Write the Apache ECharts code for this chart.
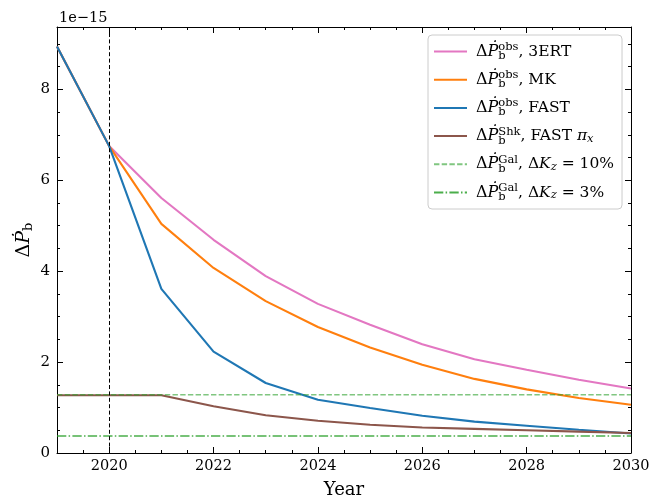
<!DOCTYPE html>
<html>
<head>
<meta charset="utf-8">
<script src="https://cdn.jsdelivr.net/npm/echarts@6/dist/echarts.min.js"></script>
<style>html,body{margin:0;padding:0;background:#fff}#c{width:671px;height:499px}</style>
</head>
<body>
<div id="c"></div>
<script>
// ---- data ----
const years = [2019, 2020, 2021, 2022, 2023, 2024, 2025, 2026, 2027, 2028, 2029, 2030];
const pdot3ERT = [8.94, 6.75, 5.61, 4.69, 3.89, 3.28, 2.82, 2.39, 2.06, 1.83, 1.61, 1.42];
const pdotMK   = [8.94, 6.75, 5.04, 4.07, 3.34, 2.77, 2.32, 1.94, 1.63, 1.40, 1.21, 1.06];
const pdotFAST = [8.94, 6.75, 3.61, 2.23, 1.54, 1.17, 0.99, 0.82, 0.69, 0.60, 0.51, 0.43];
const pdotShk  = [1.27, 1.27, 1.27, 1.03, 0.83, 0.71, 0.62, 0.56, 0.53, 0.50, 0.47, 0.44];
const galK10 = 1.28;
const galK3 = 0.375;
const xMin = 2019, xMax = 2030, yMin = 0, yMax = 9.37;
const xMajorTicks = [2020, 2022, 2024, 2026, 2028, 2030];
const xMinorTicks = [2019, 2019.5, 2020, 2020.5, 2021, 2021.5, 2022, 2022.5, 2023, 2023.5, 2024, 2024.5, 2025, 2025.5, 2026, 2026.5, 2027, 2027.5, 2028, 2028.5, 2029, 2029.5, 2030];
const yMajorTicks = [0, 2, 4, 6, 8];
const yMinorTicks = [0, 0.5, 1, 1.5, 2, 2.5, 3, 3.5, 4, 4.5, 5, 5.5, 6, 6.5, 7, 7.5, 8, 8.5, 9];
const markerYear = 2020;
const seriesNames = ['3ERT', 'MK', 'FAST', 'Shk', 'Gal10', 'Gal3'];
const legendLabels = {
  '3ERT': '{d|Δ}{p|Ṗ}{sb|b}{sp|obs}{t|, 3ERT}',
  'MK': '{d|Δ}{p|Ṗ}{sb|b}{sp|obs}{t|, MK}',
  'FAST': '{d|Δ}{p|Ṗ}{sb|b}{sp|obs}{t|, FAST}',
  'Shk': '{d|Δ}{p|Ṗ}{sb|b}{sp|Shk}{t|, FAST }{i|π}{si|x}',
  'Gal10': '{d|Δ}{p|Ṗ}{sb|b}{sp|Gal}{t|, Δ}{i|K}{si|z}{t| = 10%}',
  'Gal3': '{d|Δ}{p|Ṗ}{sb|b}{sp|Gal}{t|, Δ}{i|K}{si|z}{t| = 3%}'
};
const yLabel = '{d|Δ}{p|Ṗ}{sb|b}';
const offsetText = '1e−15';
const xName = 'Year';

// ---- chart ----
const FONT = '"DejaVu Serif", serif';
const pair = (xs, ys) => xs.map((x, i) => [x, ys[i]]);
const chart = echarts.init(document.getElementById('c'), null, {renderer: 'canvas'});

function xAxisDef(pos, major, showLabel, showLine) {
  return {
    type: 'value', min: xMin, max: xMax, position: pos,
    axisLine: {show: showLine, onZero: false, lineStyle: {color: '#000', width: 1}},
    axisTick: {show: true, inside: true, length: major ? 6 : 3, customValues: major ? xMajorTicks : xMinorTicks, lineStyle: {color: '#000', width: 1}},
    axisLabel: {show: showLabel, customValues: xMajorTicks, formatter: v => String(v), color: '#000', fontFamily: FONT, fontSize: 14.5, margin: 6},
    splitLine: {show: false}
  };
}
function yAxisDef(pos, major, showLabel, showLine) {
  return {
    type: 'value', min: yMin, max: yMax, position: pos,
    axisLine: {show: showLine, onZero: false, lineStyle: {color: '#000', width: 1}},
    axisTick: {show: true, inside: true, length: major ? 6 : 3, customValues: major ? yMajorTicks : yMinorTicks, lineStyle: {color: '#000', width: 1}},
    axisLabel: {show: showLabel, customValues: yMajorTicks, formatter: v => String(v), color: '#000', fontFamily: FONT, fontSize: 15, margin: 7},
    splitLine: {show: false}
  };
}

const xAxes = [xAxisDef('bottom', true, true, true), xAxisDef('bottom', false, false, false), xAxisDef('top', true, false, true), xAxisDef('top', false, false, false)];
xAxes[0].name = xName;
xAxes[0].nameLocation = 'middle';
xAxes[0].nameGap = 28;
xAxes[0].nameMoveOverlap = false;
xAxes[0].nameTextStyle = {fontFamily: FONT, fontSize: 18, color: '#000'};

const yAxes = [yAxisDef('left', true, true, true), yAxisDef('left', false, false, false), yAxisDef('right', true, false, true), yAxisDef('right', false, false, false)];
yAxes[0].name = yLabel;
yAxes[0].nameLocation = 'middle';
yAxes[0].nameGap = 22;
yAxes[0].nameMoveOverlap = false;
yAxes[0].nameTextStyle = {
  fontFamily: FONT, color: '#000',
  rich: {
    d: {fontFamily: FONT, fontSize: 19, color: '#000'},
    p: {fontFamily: FONT, fontSize: 19, fontStyle: 'italic', color: '#000'},
    sb: {fontFamily: FONT, fontSize: 13, color: '#000', padding: [8, 0, 0, 0]}
  }
};

const lw = 2.1;
const series = [
  {name: '3ERT', type: 'line', data: pair(years, pdot3ERT), color: '#e377c2', lineStyle: {width: lw},
   markLine: {silent: true, symbol: ['none', 'none'], label: {show: false},
     lineStyle: {color: '#000', type: [4, 2.4], width: 1}, data: [{xAxis: markerYear}]}},
  {name: 'MK', type: 'line', data: pair(years, pdotMK), color: '#ff7f0e', lineStyle: {width: lw}},
  {name: 'FAST', type: 'line', data: pair(years, pdotFAST), color: '#1f77b4', lineStyle: {width: lw}},
  {name: 'Shk', type: 'line', data: pair(years, pdotShk), color: '#8c564b', lineStyle: {width: lw}},
  {name: 'Gal10', type: 'line', data: [[xMin, galK10], [xMax, galK10]], color: '#2ca02c', lineStyle: {width: 1.4, type: [5.4, 2.3], opacity: 0.6}},
  {name: 'Gal3', type: 'line', data: [[xMin, galK3], [xMax, galK3]], color: '#2ca02c', lineStyle: {width: 1.4, type: [9.3, 2.3, 1.5, 2.3], opacity: 0.85}}
].map(s => Object.assign(s, {xAxisIndex: 0, yAxisIndex: 0, symbol: 'none', showSymbol: false, animation: false, clip: true}));

const richLegend = {
  d: {fontFamily: FONT, fontSize: 16, color: '#000', height: 24},
  p: {fontFamily: FONT, fontSize: 16, fontStyle: 'italic', color: '#000'},
  sb: {fontFamily: FONT, fontSize: 11.5, color: '#000', width: 0.01, padding: [9, 0, 0, 0]},
  sp: {fontFamily: FONT, fontSize: 11.5, color: '#000', padding: [0, 0, 9, 0]},
  t: {fontFamily: FONT, fontSize: 15.5, color: '#000'},
  i: {fontFamily: FONT, fontSize: 15.5, fontStyle: 'italic', color: '#000'},
  si: {fontFamily: FONT, fontSize: 11.5, fontStyle: 'italic', color: '#000', padding: [6, 0, 0, 0]}
};

chart.setOption({
  animation: false,
  backgroundColor: '#fff',
  title: {text: offsetText, left: 54, top: 6, textStyle: {fontFamily: FONT, fontSize: 14.5, fontWeight: 'normal', color: '#000'}},
  grid: {left: 57, right: 40, top: 27, bottom: 46, containLabel: false, outerBoundsMode: 'none'},
  xAxis: xAxes,
  yAxis: yAxes,
  legend: {
    data: seriesNames,
    orient: 'vertical',
    left: 428, top: 35,
    padding: [6, 8, 6, 5],
    itemWidth: 33, itemHeight: 12, itemGap: 7.2,
    backgroundColor: 'rgba(255,255,255,0.8)',
    borderColor: '#cccccc', borderWidth: 1, borderRadius: 4,
    itemStyle: {opacity: 0},
    formatter: name => legendLabels[name],
    textStyle: {fontFamily: FONT, color: '#000', rich: richLegend, padding: [0, 0, 0, 4]}
  },
  series: series
});
</script>
</body>
</html>
